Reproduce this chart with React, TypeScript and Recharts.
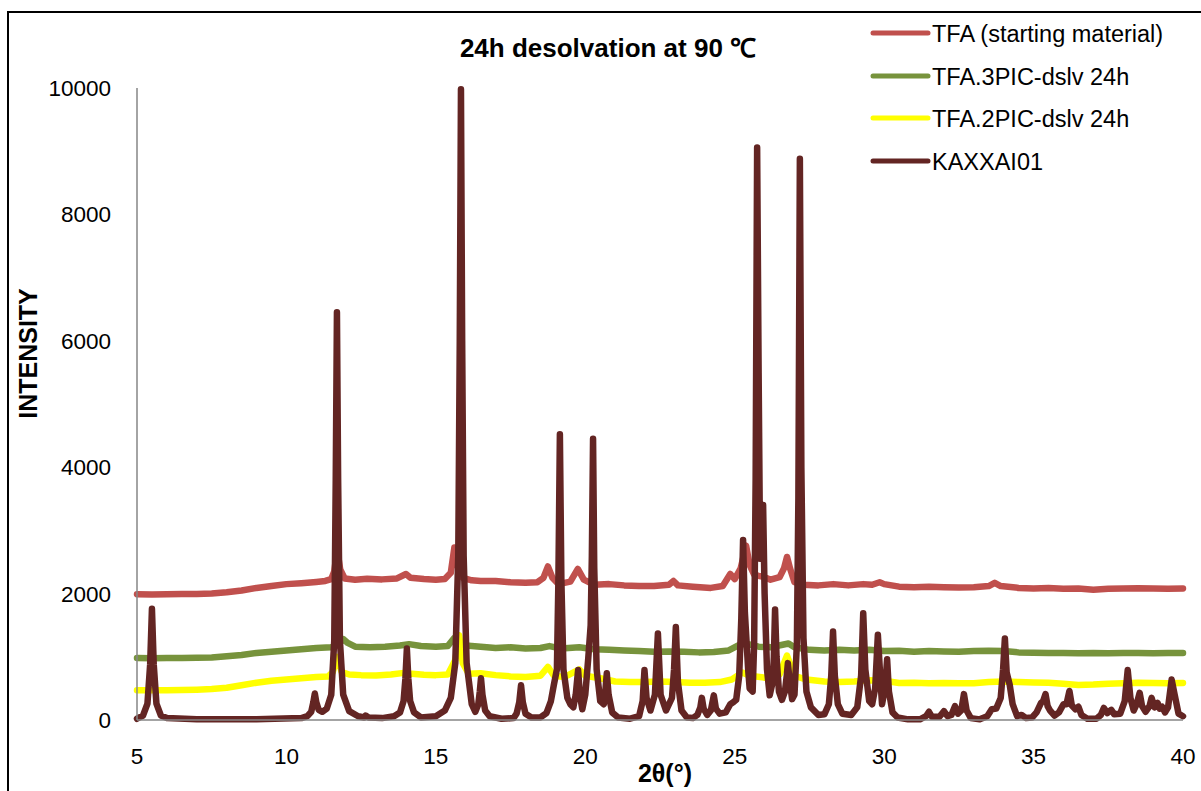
import React from "react"
import { LineChart, Line, XAxis, YAxis } from "recharts"

// 2θ / intensity pairs
const tfaStart: [number, number][] = [
  [5, 1990], [5.5, 1985], [6, 1990], [6.5, 1992], [7, 1995], [7.5, 2000], [8, 2020], [8.5, 2050],
  [9, 2090], [9.5, 2120], [10, 2150], [10.5, 2165], [11, 2185], [11.3, 2200], [11.5, 2230],
  [11.6, 2350], [11.7, 2700], [11.8, 2380], [11.95, 2240], [12.3, 2220], [12.7, 2235], [13.2, 2225],
  [13.7, 2240], [14.0, 2310], [14.15, 2250], [14.6, 2230], [15.0, 2220], [15.3, 2230], [15.5, 2330],
  [15.62, 2730], [15.75, 2400], [15.9, 2250], [16.2, 2210], [16.5, 2200], [17, 2200], [17.5, 2180],
  [18, 2170], [18.4, 2180], [18.6, 2250], [18.75, 2430], [18.9, 2250], [19.1, 2150], [19.5, 2190],
  [19.75, 2390], [19.95, 2220], [20.3, 2140], [20.8, 2150], [21.3, 2130], [21.8, 2120], [22.3, 2120],
  [22.8, 2140], [22.95, 2200], [23.1, 2130], [23.6, 2110], [24.2, 2090], [24.6, 2120], [24.85, 2310],
  [25.0, 2230], [25.2, 2400], [25.38, 2760], [25.5, 2450], [25.65, 2300], [25.8, 2280], [26.0, 2260],
  [26.2, 2220], [26.5, 2260], [26.65, 2400], [26.75, 2580], [26.85, 2400], [27.0, 2180], [27.3, 2140],
  [27.8, 2130], [28.3, 2150], [28.8, 2130], [29.3, 2150], [29.6, 2140], [29.85, 2180], [30.0, 2150],
  [30.5, 2110], [31, 2100], [31.5, 2110], [32, 2100], [32.5, 2095], [33, 2100], [33.5, 2120],
  [33.7, 2170], [33.9, 2120], [34.5, 2090], [35, 2080], [35.5, 2090], [36, 2075], [36.5, 2080],
  [37, 2060], [37.5, 2075], [38, 2080], [38.5, 2085], [39, 2080], [39.5, 2075], [40, 2080],
]

const tfa3pic: [number, number][] = [
  [5, 980], [5.5, 978], [6, 980], [6.5, 982], [7, 985], [7.5, 990], [8, 1010], [8.5, 1030],
  [9, 1060], [9.5, 1080], [10, 1100], [10.5, 1120], [11, 1140], [11.5, 1150], [11.75, 1200],
  [11.9, 1280], [12.05, 1220], [12.3, 1160], [12.8, 1150], [13.3, 1160], [13.8, 1180], [14.1, 1200],
  [14.5, 1170], [15, 1160], [15.4, 1170], [15.6, 1290], [15.75, 1250], [16.0, 1180], [16.5, 1160],
  [17, 1140], [17.5, 1150], [18, 1130], [18.5, 1140], [18.8, 1170], [19.2, 1130], [19.8, 1150],
  [20.3, 1120], [20.8, 1110], [21.3, 1100], [21.8, 1090], [22.3, 1080], [22.8, 1085], [23.3, 1080],
  [23.8, 1070], [24.3, 1075], [24.8, 1100], [25.2, 1200], [25.45, 1200], [25.8, 1160], [26.2, 1150],
  [26.6, 1190], [26.8, 1210], [27.0, 1150], [27.5, 1110], [28, 1100], [28.5, 1110], [29, 1100],
  [29.5, 1110], [30, 1090], [30.5, 1095], [31, 1080], [31.5, 1090], [32, 1085], [32.5, 1080],
  [33, 1090], [33.5, 1095], [34, 1090], [34.5, 1070], [35, 1065], [35.5, 1060], [36, 1060],
  [36.5, 1055], [37, 1060], [37.5, 1055], [38, 1060], [38.5, 1060], [39, 1055], [39.5, 1060], [40, 1060],
]

const tfa2pic: [number, number][] = [
  [5, 470], [5.5, 470], [6, 472], [6.5, 475], [7, 480], [7.5, 490], [8, 510], [8.5, 550], [9, 590],
  [9.5, 620], [10, 640], [10.5, 660], [11, 680], [11.4, 690], [11.55, 760], [11.7, 1000], [11.85, 760],
  [12.1, 720], [12.5, 710], [13, 705], [13.5, 720], [14, 750], [14.2, 730], [14.6, 715], [15, 710],
  [15.4, 720], [15.65, 950], [15.78, 1340], [15.9, 900], [16.1, 730], [16.5, 740], [17, 710],
  [17.5, 690], [18, 680], [18.5, 700], [18.75, 840], [18.95, 700], [19.3, 680], [19.8, 800],
  [20.0, 700], [20.5, 660], [21, 610], [21.5, 600], [22, 600], [22.5, 610], [23, 600], [23.5, 590],
  [24, 590], [24.5, 600], [24.9, 640], [25.25, 750], [25.5, 700], [26, 670], [26.5, 720],
  [26.75, 1020], [27.0, 700], [27.4, 640], [28, 610], [28.5, 600], [29, 610], [29.5, 630], [30, 620],
  [30.5, 585], [31, 590], [31.5, 580], [32, 585], [32.5, 580], [33, 580], [33.5, 600], [34, 610],
  [34.5, 600], [35, 595], [35.5, 590], [36, 575], [36.5, 555], [37, 560], [37.5, 575], [38, 580],
  [38.5, 590], [39, 585], [39.5, 580], [40, 585],
]

const kaxxai01: [number, number][] = [
  [5.0, 20], [5.2, 70], [5.35, 260], [5.44, 880], [5.5, 1760], [5.56, 880], [5.65, 260], [5.8, 70],
  [6.0, 30], [7, 10], [9, 10], [10.5, 30], [10.7, 60], [10.83, 130], [10.9, 280], [10.95, 420],
  [11.0, 280], [11.08, 160], [11.2, 130], [11.35, 180], [11.5, 400], [11.6, 1250], [11.65, 3800],
  [11.69, 6450], [11.73, 3800], [11.79, 1250], [11.9, 400], [12.1, 140], [12.4, 60], [12.6, 40],
  [12.65, 70], [12.75, 40], [13.2, 30], [13.6, 60], [13.8, 120], [13.92, 300], [13.98, 650],
  [14.03, 1130], [14.08, 650], [14.14, 300], [14.27, 120], [14.5, 40], [15.0, 60], [15.3, 150],
  [15.5, 350], [15.65, 900], [15.75, 2600], [15.8, 6000], [15.84, 9980], [15.88, 6000], [15.93, 2600],
  [16.03, 900], [16.2, 250], [16.32, 130], [16.42, 250], [16.47, 450], [16.51, 660], [16.56, 400],
  [16.65, 150], [16.8, 60], [17.2, 20], [17.6, 30], [17.7, 100], [17.79, 280], [17.85, 550],
  [17.91, 280], [18.0, 100], [18.2, 40], [18.5, 40], [18.7, 110], [18.85, 300], [18.95, 560],
  [19.05, 800], [19.1, 2200], [19.15, 4520], [19.2, 2200], [19.27, 800], [19.4, 350], [19.5, 250],
  [19.6, 200], [19.68, 400], [19.76, 790], [19.82, 400], [19.9, 170], [20.0, 400], [20.1, 980],
  [20.18, 1500], [20.22, 2600], [20.26, 4450], [20.3, 2400], [20.38, 800], [20.5, 300], [20.62, 250],
  [20.67, 450], [20.72, 740], [20.78, 400], [20.9, 120], [21.1, 40], [21.5, 20], [21.8, 60],
  [21.92, 300], [21.98, 790], [22.05, 350], [22.18, 150], [22.33, 400], [22.43, 1370], [22.52, 400],
  [22.7, 150], [22.9, 350], [22.97, 800], [23.03, 1470], [23.1, 600], [23.22, 150], [23.4, 40],
  [23.6, 30], [23.75, 80], [23.85, 200], [23.9, 350], [23.96, 180], [24.08, 80], [24.2, 150],
  [24.3, 390], [24.37, 180], [24.5, 100], [24.7, 120], [24.85, 250], [24.95, 280], [25.05, 320],
  [25.15, 700], [25.22, 1600], [25.28, 2850], [25.34, 1700], [25.45, 800], [25.5, 500], [25.6, 450],
  [25.65, 1200], [25.7, 3800], [25.75, 9060], [25.8, 5500], [25.85, 2550], [25.9, 2900], [25.95, 3400],
  [26.0, 2000], [26.08, 800], [26.17, 390], [26.27, 600], [26.31, 1000], [26.35, 1750], [26.4, 1000],
  [26.48, 450], [26.58, 320], [26.68, 450], [26.74, 700], [26.78, 900], [26.83, 650], [26.92, 330],
  [27.0, 400], [27.08, 1200], [27.13, 3500], [27.18, 8880], [27.23, 4000], [27.3, 1300], [27.4, 450],
  [27.55, 200], [27.8, 80], [28.0, 90], [28.15, 250], [28.23, 700], [28.29, 1400], [28.35, 700],
  [28.45, 250], [28.6, 100], [28.9, 80], [29.1, 200], [29.23, 700], [29.3, 1690], [29.37, 800],
  [29.5, 300], [29.6, 250], [29.7, 500], [29.79, 1350], [29.88, 600], [29.93, 250], [30.03, 500],
  [30.1, 960], [30.16, 450], [30.28, 120], [30.45, 40], [30.8, 10], [31.2, 10], [31.4, 60],
  [31.5, 130], [31.6, 50], [31.85, 50], [32.0, 140], [32.12, 60], [32.25, 80], [32.37, 220],
  [32.47, 100], [32.58, 150], [32.67, 410], [32.76, 150], [32.9, 30], [33.2, 10], [33.45, 60],
  [33.6, 170], [33.75, 180], [33.9, 350], [33.98, 800], [34.04, 1290], [34.1, 750], [34.2, 560],
  [34.3, 250], [34.45, 60], [34.6, 80], [34.75, 30], [34.95, 40], [35.1, 120], [35.25, 270],
  [35.32, 300], [35.4, 410], [35.47, 220], [35.55, 150], [35.7, 70], [35.85, 120], [36.0, 250],
  [36.1, 250], [36.2, 460], [36.28, 230], [36.4, 170], [36.5, 210], [36.6, 80], [36.8, 20],
  [37.1, 20], [37.25, 80], [37.35, 190], [37.47, 110], [37.6, 160], [37.7, 90], [37.9, 100],
  [38.05, 300], [38.15, 790], [38.24, 350], [38.35, 150], [38.45, 250], [38.55, 430], [38.63, 220],
  [38.75, 130], [38.88, 220], [38.95, 350], [39.05, 200], [39.15, 270], [39.22, 180], [39.3, 210],
  [39.4, 120], [39.5, 200], [39.62, 640], [39.72, 400], [39.85, 100], [40.0, 60],
]

const xTicks = [5, 10, 15, 20, 25, 30, 35, 40]
const yTicks = [0, 2000, 4000, 6000, 8000, 10000]

const series = [
  { name: "TFA (starting material)", color: "#C0504D", data: tfaStart },
  { name: "TFA.3PIC-dslv 24h", color: "#77933C", data: tfa3pic },
  { name: "TFA.2PIC-dslv 24h", color: "#FFFF00", data: tfa2pic },
  { name: "KAXXAI01", color: "#632523", data: kaxxai01 },
]

const toPoints = (arr: [number, number][]) => arr.map(([x, y]) => ({ x, y }))

const FONT = "'Liberation Sans', Arial, sans-serif"
const legendY = [33, 76, 118, 161]

export default function App() {
  return (
    <div
      style={{
        position: "fixed",
        left: 0,
        top: 0,
        width: 1201,
        height: 791,
        overflow: "hidden",
        background: "#fff",
        fontFamily: FONT,
      }}
    >
      {/* outer chart frame */}
      <div
        style={{
          position: "absolute",
          left: 7,
          top: 11,
          width: 1300,
          height: 900,
          border: "2px solid #000",
        }}
      />
      <div style={{ position: "absolute", left: 0, top: 0 }}>
        <LineChart
          width={1201}
          height={791}
          margin={{ top: 88, right: 18, bottom: 0, left: 0 }}
        >
          <XAxis
            type="number"
            dataKey="x"
            domain={[5, 40]}
            ticks={xTicks}
            height={71}
            axisLine={{ stroke: "#868686", strokeWidth: 1.5 }}
            tickLine={false}
            tickSize={6}
            tickMargin={22}
            tick={{ fill: "#000", fontSize: 22.5, fontFamily: FONT }}
          />
          <YAxis
            type="number"
            domain={[0, 10000]}
            ticks={yTicks}
            width={137}
            axisLine={{ stroke: "#868686", strokeWidth: 1.5 }}
            tickLine={false}
            tickSize={6}
            tickMargin={20}
            tick={{ fill: "#000", fontSize: 22.5, fontFamily: FONT }}
          />
          {series.map((s) => (
            <Line
              key={s.name}
              name={s.name}
              data={toPoints(s.data)}
              dataKey="y"
              type="linear"
              stroke={s.color}
              strokeWidth={s.name === "KAXXAI01" ? 6.5 : 6.5}
              strokeLinejoin="round"
              strokeLinecap="round"
              dot={false}
              activeDot={false}
              isAnimationActive={false}
            />
          ))}
        </LineChart>
      </div>
      <svg
        width={1201}
        height={791}
        style={{ position: "absolute", left: 0, top: 0, pointerEvents: "none" }}
      >
        <text x={608} y={57} textAnchor="middle" fontWeight="bold" fontSize={26} fill="#000">
          24h desolvation at 90 ℃
        </text>
        <text
          transform="translate(37, 353.5) rotate(-90)"
          textAnchor="middle"
          fontWeight="bold"
          fontSize={25}
          fill="#000"
        >
          INTENSITY
        </text>
        <text x={665} y={782} textAnchor="middle" fontWeight="bold" fontSize={25} fill="#000">
          2θ(°)
        </text>
        {series.map((s, i) => (
          <g key={s.name}>
            <line
              x1={873}
              x2={928}
              y1={legendY[i]}
              y2={legendY[i]}
              stroke={s.color}
              strokeWidth={5}
              strokeLinecap="round"
            />
            <text x={932} y={legendY[i] + 9} fontSize={23.5} fill="#000">
              {s.name}
            </text>
          </g>
        ))}
      </svg>
    </div>
  )
}
